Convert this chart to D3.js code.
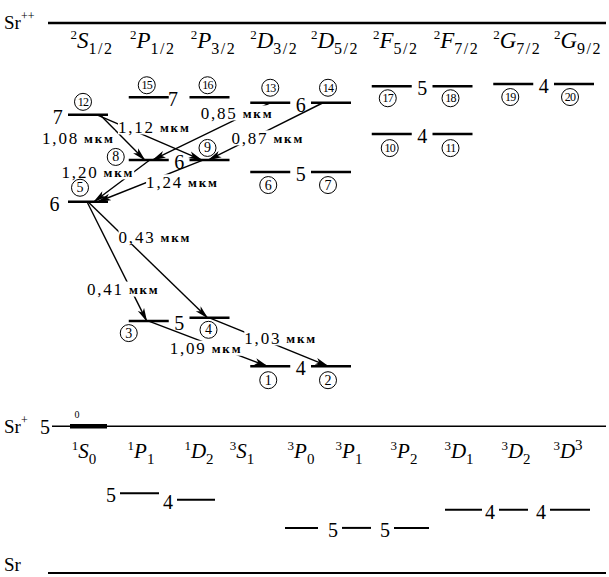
<!DOCTYPE html>
<html>
<head>
<meta charset="utf-8">
<script src="https://cdn.jsdelivr.net/npm/d3@7"></script>
<style>
body { margin: 0; background: #fff; }
</style>
</head>
<body>
<script>
var W = 609, H = 577;
var FONT = "'Liberation Serif', 'DejaVu Serif', 'Noto Serif', FreeSerif, 'Nimbus Roman', 'Times New Roman', serif";

// Sr+ terms (top row)
var ionMult = ["2", "2", "2", "2", "2", "2", "2", "2", "2"];
var ionL    = ["S", "P", "P", "D", "D", "F", "F", "G", "G"];
var ionJ    = ["1/2", "1/2", "3/2", "3/2", "5/2", "5/2", "7/2", "7/2", "9/2"];

// Sr terms (bottom row)
var neuMult = ["1", "1", "1", "3", "3", "3", "3", "3", "3", "3"];
var neuL    = ["S", "P", "D", "S", "P", "P", "P", "D", "D", "D"];
var neuJ    = ["0", "1", "2", "1", "0", "1", "2", "1", "2", "3"];

// numbered Sr+ levels: term column, principal n, relative energy (Sr = 0, Sr++ = 100)
var levelId   = [1, 2, 3, 4, 5, 6, 7, 8, 9, 10, 11, 12, 13, 14, 15, 16, 17, 18, 19, 20];
var levelTerm = [3, 4, 1, 2, 0, 3, 4, 1, 2, 5, 6, 0, 3, 4, 1, 2, 5, 6, 7, 8];
var levelN    = [4, 4, 5, 5, 6, 5, 5, 6, 6, 4, 4, 7, 6, 6, 7, 7, 5, 5, 4, 4];
var levelE    = [37.6, 37.6, 45.8, 46.4, 67.5, 72.9, 72.9, 75.1, 75.1, 79.8,
                 79.8, 83.3, 85.5, 85.5, 86.5, 86.5, 88.5, 88.5, 88.9, 88.9];
// levels whose n is written next to them
var nLabelAt  = [15, 12, 13, 8, 5, 6, 17, 19, 10, 3, 1];

// transitions (wavelength, мкм)
var transFrom = [12, 12, 13, 14, 9, 8, 5, 5, 3, 4];
var transTo   = [8, 9, 8, 9, 5, 5, 3, 4, 1, 2];
var transWl   = ["1,08", "1,12", "0,85", "0,87", "1,24", "1,20", "0,41", "0,43", "1,09", "1,03"];

// neutral Sr levels
var neuLevelTerm = [1, 2, 4, 5, 6, 7, 8, 9];
var neuLevelN    = [5, 4, 5, 5, 5, 4, 4, 4];
var neuLevelE    = [14.5, 13.3, 8.2, 8.2, 8.2, 11.5, 11.5, 11.5];

var limitE = { sr: 0, srPlus: 26.7, srPlusPlus: 100 };

// ---- layout only ----
var nLabelSide = [0.4, -0.5, 0.5, 0.5, -0.55, 0.5, 0.5, 0.5, 0.5, 0.5, 0.5];
var circleDx = [-2, -3, -20, -1, -8, -2, -3, -33, -2, -2, -2, -5, 0, -3, -2, -2, -4, -2, -3, -4];
var circleDy = [14, 14, 12, 12, -14, 13, 13, -3, -12, 14, 14, -13, -15, -15, -12, -12, 12, 12, 13, 13];
// arrow ends as fraction of half line width, label position along arrow + nudge
var arrowFromOff = [0.6, 0.45, 0, -0.4, -0.3, 0.05, -0.05, 0, 0, 0];
var arrowToOff   = [-0.2, -0.4, 0.2, -0.05, 0.5, 0.3, -0.1, -0.1, -0.15, -0.15];
var labT  = [0.5, 0.5, 0.3, 0.5, 0.2, 0.5, 0.74, 0.3, 0.5, 0.6];
var labDx = [-44, 5, 2, 2, 0, -24, -8, 31, -2, 0];
var labDy = [0.5, -10.5, -7, 6.5, 13.5, -9, -1, 0, 4.5, -9];
var neuDx = [-1.5, -3, 0.5, 7.5, 7.5, 4.5, -2.5, 2];
var neuHw = [19.5, 19, 16.5, 14.5, 17.5, 18.5, 14.5, 20];
var neuShowN = [1, 1, 0, 1, 1, 0, 1, 1];

var HW = 20;
var xIon = d3.scaleLinear().domain([0, 8]).range([88, 574]);
var xNeu = d3.scaleOrdinal().domain(d3.range(10))
    .range([84, 141, 199, 242, 301, 349, 404, 459, 516, 568]);
var yE = d3.scaleLinear().domain([0, 100]).range([573, 23]);

var svg = d3.select('body').append('svg')
    .attr('width', W)
    .attr('height', H)
    .attr('font-family', FONT)
    .style('display', 'block');

svg.append('defs').append('marker')
    .attr('id', 'ah')
    .attr('viewBox', '0 -4 14 8')
    .attr('refX', 13)
    .attr('refY', 0)
    .attr('markerWidth', 14)
    .attr('markerHeight', 8)
    .attr('markerUnits', 'userSpaceOnUse')
    .attr('orient', 'auto')
    .append('path')
    .attr('d', 'M0,-3.5L14,0L0,3.5L3.5,0Z')
    .attr('fill', 'black');

// ---- limits ----
function limitLabel(y, sup) {
    var t = svg.append('text').attr('x', 4).attr('y', y).attr('font-size', 19);
    t.append('tspan').text('Sr');
    if (sup) t.append('tspan').attr('font-size', 12).attr('dy', -9).text(sup);
}
svg.append('line')
    .attr('x1', 48).attr('x2', 606)
    .attr('y1', yE(limitE.srPlusPlus)).attr('y2', yE(limitE.srPlusPlus))
    .attr('stroke', 'black').attr('stroke-width', 2.5);
limitLabel(yE(limitE.srPlusPlus) + 6, '++');

svg.append('line')
    .attr('x1', 52).attr('x2', 606)
    .attr('y1', yE(limitE.srPlus)).attr('y2', yE(limitE.srPlus))
    .attr('stroke', 'black').attr('stroke-width', 1.5);
svg.append('line')
    .attr('x1', xNeu(0) - 14).attr('x2', xNeu(0) + 23)
    .attr('y1', yE(limitE.srPlus)).attr('y2', yE(limitE.srPlus))
    .attr('stroke', 'black').attr('stroke-width', 4.5);
limitLabel(yE(limitE.srPlus) + 7, '+');
svg.append('text').attr('x', 45).attr('y', yE(limitE.srPlus) + 8)
    .attr('font-size', 20).attr('text-anchor', 'middle').text('5');
svg.append('text').attr('x', xNeu(0) - 7).attr('y', yE(limitE.srPlus) - 8)
    .attr('font-size', 10).attr('text-anchor', 'middle').text('0');

svg.append('line')
    .attr('x1', 48).attr('x2', 606)
    .attr('y1', yE(limitE.sr)).attr('y2', yE(limitE.sr))
    .attr('stroke', 'black').attr('stroke-width', 2);
limitLabel(yE(limitE.sr) - 2, null);

// ---- term headers ----
svg.selectAll('.ionterm')
    .data(ionL).enter()
    .append('text')
    .attr('class', 'ionterm')
    .attr('x', function(d, i) { return xIon(i) + 4; })
    .attr('y', 48)
    .attr('text-anchor', 'middle')
    .each(function(d, i) {
        var t = d3.select(this);
        t.append('tspan').attr('font-size', 13).attr('dy', -9).text(ionMult[i]);
        t.append('tspan').attr('font-size', 23).attr('font-style', 'italic').attr('dy', 9).text(d);
        t.append('tspan').attr('font-size', 16).attr('dy', 6).attr('letter-spacing', 1.5).text(ionJ[i]);
    });

svg.selectAll('.neuterm')
    .data(neuL).enter()
    .append('text')
    .attr('class', 'neuterm')
    .attr('x', function(d, i) { return xNeu(i); })
    .attr('y', 458)
    .attr('text-anchor', 'middle')
    .each(function(d, i) {
        var t = d3.select(this);
        var last = i == neuL.length - 1;
        t.append('tspan').attr('font-size', 13).attr('dy', -8).text(neuMult[i]);
        t.append('tspan').attr('font-size', 21).attr('font-style', 'italic').attr('dy', 8).text(d);
        t.append('tspan').attr('font-size', 15).attr('dy', last ? -8 : 6).text(neuJ[i]);
    });

// ---- transitions ----
var levels = levelId.map(function(id, i) {
    return { id: id, term: levelTerm[i], n: levelN[i], e: levelE[i],
             x: xIon(levelTerm[i]), y: yE(levelE[i]) };
});
function lev(id) { return levels[id - 1]; }

var arrows = transWl.map(function(wl, i) {
    var a = lev(transFrom[i]), b = lev(transTo[i]);
    return { wl: wl,
             x1: a.x + arrowFromOff[i] * HW, y1: a.y,
             x2: b.x + arrowToOff[i] * HW, y2: b.y, k: i };
});

svg.selectAll('.arrow')
    .data(arrows).enter()
    .append('line')
    .attr('class', 'arrow')
    .attr('x1', function(d) { return d.x1; })
    .attr('y1', function(d) { return d.y1; })
    .attr('x2', function(d) { return d.x2; })
    .attr('y2', function(d) { return d.y2; })
    .attr('stroke', 'black')
    .attr('stroke-width', 1.4)
    .attr('marker-end', 'url(#ah)');

var lab = svg.selectAll('.wl')
    .data(arrows).enter()
    .append('g')
    .attr('class', 'wl');
lab.append('text')
    .attr('x', function(d) { return d.x1 + (d.x2 - d.x1) * labT[d.k] + labDx[d.k]; })
    .attr('y', function(d) { return d.y1 + (d.y2 - d.y1) * labT[d.k] + labDy[d.k]; })
    .attr('text-anchor', 'middle')
    .attr('dominant-baseline', 'central')
    .each(function(d) {
        var t = d3.select(this);
        t.append('tspan').attr('font-size', 17).attr('letter-spacing', 1.8).text(d.wl);
        t.append('tspan').attr('font-size', 13).attr('font-weight', 'bold')
            .attr('letter-spacing', 1.8).text(' мкм');
    });
lab.each(function() {
    var g = d3.select(this);
    var bb = g.select('text').node().getBBox();
    g.insert('rect', 'text')
        .attr('x', bb.x).attr('y', bb.y + 2)
        .attr('width', bb.width).attr('height', bb.height - 4)
        .attr('fill', 'white');
});

// ---- Sr+ levels ----
svg.selectAll('.level')
    .data(levels).enter()
    .append('line')
    .attr('class', 'level')
    .attr('x1', function(d) { return d.x - HW; })
    .attr('x2', function(d) { return d.x + HW; })
    .attr('y1', function(d) { return d.y; })
    .attr('y2', function(d) { return d.y; })
    .attr('stroke', 'black')
    .attr('stroke-width', 2.5);

svg.selectAll('.nlab')
    .data(nLabelAt).enter()
    .append('text')
    .attr('class', 'nlab')
    .attr('x', function(id, i) { return xIon(lev(id).term + nLabelSide[i]); })
    .attr('y', function(id) { return lev(id).y + 2; })
    .attr('font-size', 20)
    .attr('text-anchor', 'middle')
    .attr('dominant-baseline', 'central')
    .text(function(id) { return lev(id).n; });

var circ = svg.selectAll('.num')
    .data(levels).enter()
    .append('g')
    .attr('class', 'num')
    .attr('transform', function(d, i) {
        return 'translate(' + (d.x + circleDx[i]) + ',' + (d.y + circleDy[i]) + ')';
    });
circ.append('circle')
    .attr('r', 8.5)
    .attr('fill', 'white')
    .attr('stroke', 'black')
    .attr('stroke-width', 1);
circ.append('text')
    .attr('text-anchor', 'middle')
    .attr('dominant-baseline', 'central')
    .attr('font-size', function(d) { return d.id > 9 ? 12 : 14; })
    .attr('letter-spacing', function(d) { return d.id > 9 ? -0.8 : 0; })
    .text(function(d) { return d.id; });

// ---- neutral Sr levels ----
var neu = neuLevelTerm.map(function(t, i) {
    var cx = xNeu(t) + neuDx[i];
    return { x1: cx - neuHw[i], x2: cx + neuHw[i], y: yE(neuLevelE[i]), n: neuLevelN[i], show: neuShowN[i] };
});
svg.selectAll('.nlevel')
    .data(neu).enter()
    .append('line')
    .attr('class', 'nlevel')
    .attr('x1', function(d) { return d.x1; })
    .attr('x2', function(d) { return d.x2; })
    .attr('y1', function(d) { return d.y; })
    .attr('y2', function(d) { return d.y; })
    .attr('stroke', 'black')
    .attr('stroke-width', 2);
svg.selectAll('.nnlab')
    .data(neu.filter(function(d) { return d.show; })).enter()
    .append('text')
    .attr('class', 'nnlab')
    .attr('x', function(d) { return d.x1 - 9; })
    .attr('y', function(d) { return d.y + 2; })
    .attr('font-size', 20)
    .attr('text-anchor', 'middle')
    .attr('dominant-baseline', 'central')
    .text(function(d) { return d.n; });
</script>
</body>
</html>
